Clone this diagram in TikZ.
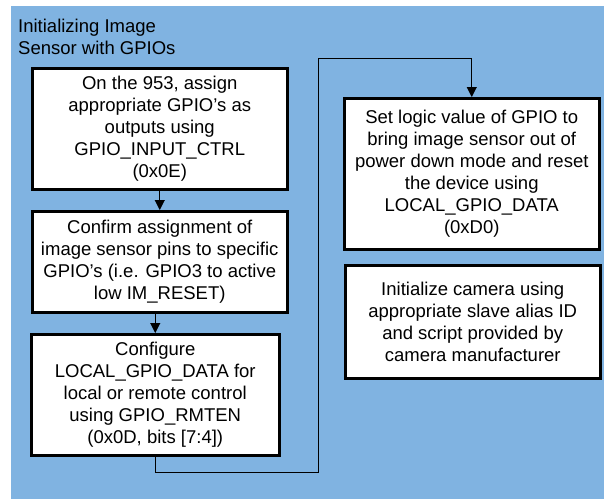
\documentclass[tikz,border=0pt]{standalone}
\usepackage{fontspec}
\setmainfont{Liberation Sans}
\usetikzlibrary{arrows.meta,positioning}
\definecolor{panelblue}{RGB}{128,179,225}

\begin{document}
\begin{tikzpicture}[x=1pt,y=-1pt,>={Triangle[width=10pt,length=10pt]},
    every node/.style={font=\fontsize{18.5}{22}\selectfont}]
    % boxes and links
    \tikzstyle{stepbox}=[rectangle,draw=black,line width=2.5pt,fill=white,
    align=center,anchor=north west,inner sep=0pt]
    \tikzstyle{link}=[line width=1pt,draw=black]

    \useasboundingbox (0,0) rectangle (604,499);
    \fill[panelblue] (11,6) rectangle (604,499);

    \node [anchor=north west,align=left,inner sep=0pt,
        font=\fontsize{18.5}{21.5}\selectfont] (title) at (18,19)
        {Initializing Image\\Sensor with GPIOs};

    \node [stepbox,minimum width=255pt,minimum height=121pt] (assign) at (31,67)
        {On the 953, assign\\appropriate GPIO's as\\outputs using\\GPIO\_INPUT\_CTRL\\(0x0E)};
    \node [stepbox,minimum width=255pt,minimum height=101pt] (confirm) at (31,210)
        {Confirm assignment of\\image sensor pins to specific\\GPIO's (i.e. GPIO3 to active\\low IM\_RESET)};
    \node [stepbox,minimum width=248pt,minimum height=121pt] (config) at (30,333)
        {Configure\\LOCAL\_GPIO\_DATA for\\local or remote control\\using GPIO\_RMTEN\\(0x0D, bits [7:4])};
    \node [stepbox,minimum width=255pt,minimum height=151pt] (setval) at (343,97)
        {Set logic value of GPIO to\\bring image sensor out of\\power down mode and reset\\the device using\\LOCAL\_GPIO\_DATA\\(0xD0)};
    \node [stepbox,minimum width=255pt,minimum height=113pt] (camera) at (344,264)
        {Initialize camera using\\appropriate slave alias ID\\and script provided by\\camera manufacturer};

    \coordinate (loopA) at (318,472);
    \coordinate (loopB) at (318,58);

    \draw [link,->] (assign.south) -- (confirm.north);
    \draw [link,->] (confirm.south -| config.north) -- (config.north);
    \draw [link,->] (config.south) |- (loopA) -- (loopB) -| (setval.north);
\end{tikzpicture}
\end{document}
